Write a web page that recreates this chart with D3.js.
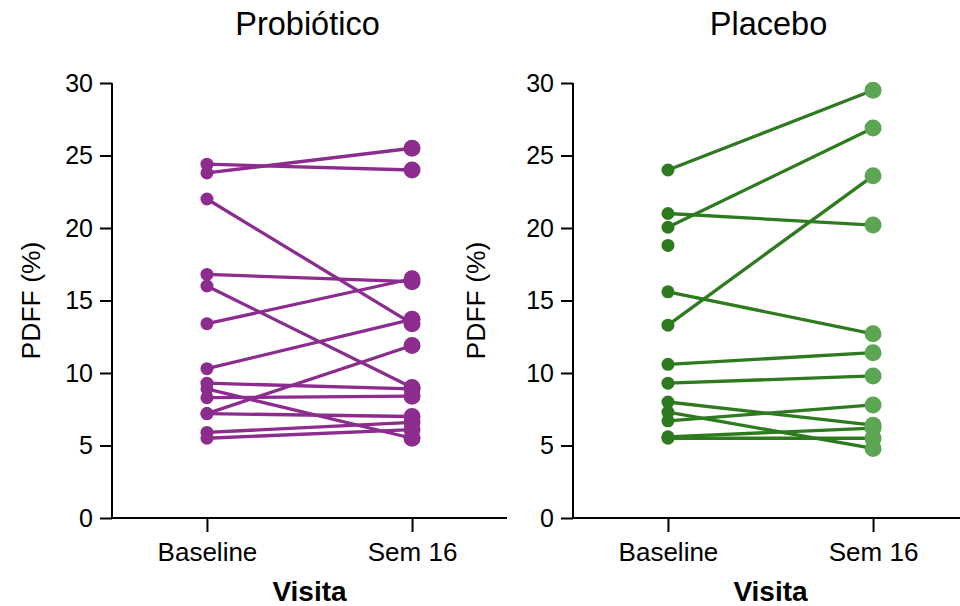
<!DOCTYPE html>
<html>
<head>
<meta charset="utf-8">
<script src="https://cdn.jsdelivr.net/npm/d3@7"></script>
<style>
  body { margin: 0; background: #fff; }
  svg { display: block; font-family: "Liberation Sans", Arial, sans-serif; }
</style>
</head>
<body>
<svg id="chart" width="960" height="606"></svg>
<script>
// categories and tick labels
const visits = ["Baseline", "Sem 16"];
const yTicks = [0, 5, 10, 15, 20, 25, 30];

// Probiótico subjects (paired by index)
const probBaseline = [24.4, 23.8, 22.0, 16.8, 16.0, 13.4, 10.3, 9.3, 8.9, 8.3, 7.2, 7.2, 5.9, 5.5];
const probSem16    = [24.0, 25.5, 13.4, 16.3, 9.0, 16.5, 13.7, 8.9, 5.5, 8.4, 11.9, 7.0, 6.6, 6.1];

// Placebo subjects (null = no week 16 value)
const placBaseline = [24.0, 21.0, 20.05, 18.8, 15.6, 13.3, 10.6, 9.3, 8.0, 7.3, 6.7, 5.6, 5.5];
const placSem16    = [29.5, 20.2, 26.9, null, 12.7, 23.6, 11.4, 9.8, 6.4, 4.8, 7.8, 6.2, 5.5];

const svg = d3.select("#chart");

const panels = [
  { title: "Probiótico", x0: 112, base: probBaseline, sem: probSem16,
    line: "#8b2c8e", c0: "#8b2c8e", c1: "#8b2c8e", ylabX: 40 },
  { title: "Placebo", x0: 573, base: placBaseline, sem: placSem16,
    line: "#2e7a1f", c0: "#2e7a1f", c1: "#5ca552", ylabX: 485 },
];

const plotTop = 83, plotBottom = 518, axisW = 395;

const y = d3.scaleLinear().domain([0, 30]).range([plotBottom, plotTop]);

panels.forEach((p) => {
  const x = d3.scalePoint().domain(visits).range([p.x0, p.x0 + axisW]).padding(0.463);
  const g = svg.append("g");

  // title
  g.append("text")
    .attr("x", p.x0 + axisW / 2 - 2)
    .attr("y", 35)
    .attr("text-anchor", "middle")
    .style("font-size", "32.5px")
    .text(p.title);

  // y axis
  const yAxis = g.append("g")
    .attr("transform", `translate(${p.x0},0)`)
    .call(d3.axisLeft(y).tickValues(yTicks).tickSize(12).tickPadding(7));
  // x axis
  const xAxis = g.append("g")
    .attr("transform", `translate(0,${plotBottom})`)
    .call(d3.axisBottom(x).tickSize(14).tickPadding(11));

  [yAxis, xAxis].forEach((a) => {
    a.select(".domain").attr("stroke", "#000").attr("stroke-width", 2);
    a.selectAll(".tick line").attr("stroke", "#000").attr("stroke-width", 2);
    a.selectAll(".tick text")
      .attr("fill", "#000")
      .style("font-size", "25px")
      .style("font-family", "Liberation Sans, Arial, sans-serif");
  });
  xAxis.selectAll(".tick text").style("font-size", "26px");
  // plain domain lines, no outer ticks
  yAxis.select(".domain").attr("d", `M0,${plotBottom}V${plotTop}`);
  xAxis.select(".domain").attr("d", `M${p.x0},0H${p.x0 + axisW}`);

  // y label
  g.append("text")
    .attr("transform", `translate(${p.ylabX},${(plotTop + plotBottom) / 2}) rotate(-90)`)
    .attr("text-anchor", "middle")
    .style("font-size", "26.5px")
    .text("PDFF (%)");

  // x label
  g.append("text")
    .attr("x", p.x0 + axisW / 2)
    .attr("y", 601)
    .attr("text-anchor", "middle")
    .style("font-size", "28px")
    .style("font-weight", "bold")
    .text("Visita");

  // paired lines
  const pairs = p.base.map((b, i) => ({ b, s: p.sem[i] }));
  g.append("g")
    .selectAll("line")
    .data(pairs.filter((d) => d.s != null))
    .enter()
    .append("line")
    .attr("x1", x(visits[0]))
    .attr("y1", (d) => y(d.b))
    .attr("x2", x(visits[1]))
    .attr("y2", (d) => y(d.s))
    .attr("stroke", p.line)
    .attr("stroke-width", 3.3);

  // points
  g.append("g")
    .selectAll("circle")
    .data(p.base)
    .enter()
    .append("circle")
    .attr("cx", x(visits[0]))
    .attr("cy", (d) => y(d))
    .attr("r", 6.5)
    .attr("fill", p.c0);

  g.append("g")
    .selectAll("circle")
    .data(p.sem.filter((d) => d != null))
    .enter()
    .append("circle")
    .attr("cx", x(visits[1]))
    .attr("cy", (d) => y(d))
    .attr("r", 8.5)
    .attr("fill", p.c1);
});
</script>
</body>
</html>
